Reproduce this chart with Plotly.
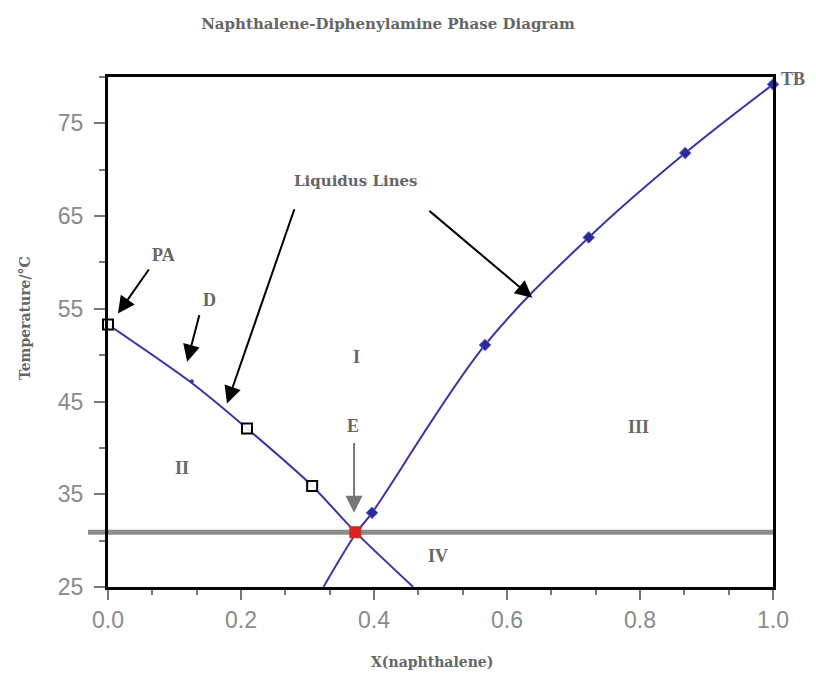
import plotly.graph_objects as go

# ---- data ----
left_pts_x = [0.0, 0.209, 0.307]          # open squares (diphenylamine-rich liquidus)
left_pts_y = [53.3, 42.1, 35.9]
d_pt_x = [0.126]
d_pt_y = [47.2]
right_pts_x = [0.397, 0.567, 0.723, 0.868, 1.0]   # filled points (naphthalene-rich liquidus)
right_pts_y = [33.0, 51.1, 62.7, 71.8, 79.2]
eutectic_x = [0.372]
eutectic_y = [30.9]

left_curve_x = [0.0, 0.126, 0.209, 0.307, 0.371, 0.459]
left_curve_y = [53.3, 47.0, 42.1, 35.9, 31.0, 25.0]
right_curve_x = [0.324, 0.374, 0.397, 0.567, 0.723, 0.868, 1.0]
right_curve_y = [25.0, 30.9, 33.0, 51.1, 62.7, 71.8, 79.2]

eutectic_T = 30.9
x_ticks = [0.0, 0.2, 0.4, 0.6, 0.8, 1.0]
x_tick_labels = ["0.0", "0.2", "0.4", "0.6", "0.8", "1.0"]
y_ticks = [25, 35, 45, 55, 65, 75]
y_tick_labels = ["25", "35", "45", "55", "65", "75"]

LINE = "#3a34a8"
GRAY = "#777777"
TXT = dict(family="DejaVu Serif", size=15, color="#666666", weight="bold")
LBL = dict(family="Liberation Serif", size=18, color="#666666", weight="bold")
AXT = dict(family="DejaVu Serif", size=14, color="#666666", weight="bold")
TICKF = dict(family="Liberation Sans", size=23, color="#8a8a8a")

fig = go.Figure()

fig.add_trace(go.Scatter(x=left_curve_x, y=left_curve_y, mode="lines",
                         line=dict(color=LINE, width=2, shape="spline", smoothing=0.8),
                         hoverinfo="skip"))
fig.add_trace(go.Scatter(x=right_curve_x, y=right_curve_y, mode="lines",
                         line=dict(color=LINE, width=2, shape="spline", smoothing=1.0),
                         hoverinfo="skip"))
fig.add_trace(go.Scatter(x=left_pts_x, y=left_pts_y, mode="markers", cliponaxis=False,
                         marker=dict(symbol="square", size=10, color="rgba(255,255,255,0.9)",
                                     line=dict(color="black", width=2))))
fig.add_trace(go.Scatter(x=d_pt_x, y=d_pt_y, mode="markers",
                         marker=dict(symbol="circle", size=4, color=LINE)))
fig.add_trace(go.Scatter(x=right_pts_x, y=right_pts_y, mode="markers", cliponaxis=False,
                         marker=dict(symbol="diamond", size=9, color="#2a2a9a",
                                     line=dict(color="#6a6ad0", width=1))))
fig.add_trace(go.Scatter(x=eutectic_x, y=eutectic_y, mode="markers",
                         marker=dict(symbol="square", size=11, color="#e02020",
                                     line=dict(color="#c03030", width=1))))

# eutectic horizontal line (extends a little beyond the left axis)
fig.add_shape(type="line", xref="paper", yref="y", x0=-0.03, x1=1.0,
              y0=eutectic_T, y1=eutectic_T,
              line=dict(color="#8c8c8c", width=5), layer="below")

ann = []
def label(text, x, y, font=LBL):
    ann.append(dict(text=text, x=x, y=y, xref="x", yref="y", showarrow=False, font=font,
                    xanchor="center", yanchor="middle"))

def arrow(x, y, ax, ay, color="black"):
    ann.append(dict(text="", x=x, y=y, ax=ax, ay=ay, xref="x", yref="y",
                    axref="x", ayref="y", showarrow=True, arrowhead=2,
                    arrowsize=1.7, arrowwidth=2, arrowcolor=color))

label("Liquidus Lines", 0.373, 68.8, font=TXT)
arrow(0.179, 44.8, 0.281, 65.9)
arrow(0.638, 56.2, 0.481, 65.7)
label("PA", 0.084, 60.8)
arrow(0.015, 54.5, 0.063, 59.4)
label("D", 0.152, 55.9)
arrow(0.119, 49.3, 0.138, 54.5)
label("E", 0.368, 42.4)
arrow(0.370, 33.0, 0.370, 40.7, color="#777777")
label("I", 0.374, 49.8)
label("II", 0.111, 37.8)
label("III", 0.797, 42.3)
label("IV", 0.496, 28.3)
# label just outside the plotting area: use paper coordinates so it is not hidden
ann.append(dict(text="TB", xref="paper", yref="paper", x=1.051, y=0.996,
                xanchor="right", yanchor="middle", showarrow=False, font=LBL))

# axis titles placed as annotations (paper coords)
ann.append(dict(text="Temperature/°C", xref="paper", yref="paper", x=-0.125, y=0.527,
                xanchor="center", yanchor="middle",
                textangle=-90, showarrow=False, font=AXT))
ann.append(dict(text="X(naphthalene)", xref="paper", yref="paper", x=0.487, y=-0.147,
                xanchor="center", yanchor="middle",
                showarrow=False, font=AXT))

fig.update_layout(
    width=800, height=667,
    margin=dict(l=100, r=35, t=69, b=88),
    paper_bgcolor="white", plot_bgcolor="white",
    showlegend=False,
    title=dict(text="Naphthalene-Diphenylamine Phase Diagram", x=0.475, xanchor="center",
               y=0.976, yanchor="middle",
               font=dict(family="DejaVu Serif", size=15, color="#666666", weight="bold")),
    annotations=ann,
    xaxis=dict(range=[0, 1], tickvals=x_ticks, ticktext=x_tick_labels,
               showgrid=False, zeroline=False,
               showline=True, linecolor="black", linewidth=3, mirror=True,
               ticks="outside", ticklen=10, tickwidth=2, tickcolor=GRAY,
               ticklabelstandoff=0,
               minor=dict(dtick=0.2 / 3, tick0=0, ticks="outside", ticklen=5,
                          tickwidth=2, tickcolor=GRAY, showgrid=False),
               tickfont=TICKF),
    yaxis=dict(range=[25, 80], tickvals=y_ticks, ticktext=y_tick_labels,
               showgrid=False, zeroline=False,
               showline=True, linecolor="black", linewidth=3, mirror=True,
               ticks="outside", ticklen=11, tickwidth=2, tickcolor=GRAY,
               ticklabelstandoff=6,
               minor=dict(dtick=5, tick0=25, ticks="outside", ticklen=6,
                          tickwidth=2, tickcolor=GRAY, showgrid=False),
               tickfont=TICKF),
)

fig.write_html("out.html")
